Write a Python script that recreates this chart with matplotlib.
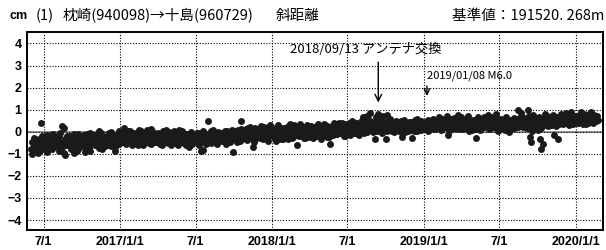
import matplotlib
matplotlib.use("Agg")
import matplotlib.pyplot as plt
import numpy as np
import pandas as pd

# --- data (cm): two interleaved sets of readings, each one every 3 days ---
start_2016 = "2016-06-01"
vals_2016 = [
    -0.78, -1.02, -0.62, -0.40, -0.55, -0.72, -0.35, -0.88, 0.38, -0.48,
    -0.30, -0.62, -0.45, -0.15, -0.70, -0.52, -0.38, -0.80, -0.25, -0.58,
    -0.40, -0.65, -0.20, -0.55, -0.50, 0.28, 0.15, -1.05, -0.60, -0.42,
    -0.35, -0.55, -0.80, -0.30, -0.10, -0.70, -0.45, -0.85, -0.25, -0.50,
    -0.35, -0.60, -0.15, -0.90, -0.42, -0.28, -0.75, -0.05, -0.50, -0.38,
    -0.45, -0.20, -0.62, -0.30, 0.02, -0.55, -0.38, -0.80, -0.25, -0.42,
    -0.28, -0.50, -0.05, -0.35, -0.65, -0.20, -0.40, -0.85, -0.15, -0.32, -0.55, -0.10,
]
start_2016b = "2016-06-02"
vals_2016b = [
    -0.45, -0.85, -0.30, -0.68, -0.52, -0.95, -0.40, -0.60, -0.20, -0.75,
    -0.65, -0.35, -0.90, -0.48, -0.22, -0.60, -0.75, -0.10, -0.55, -0.40,
    -0.58, -0.30, -0.85, -0.05, -0.70, -0.45, -0.95, -0.35, -0.18, -0.62,
    -0.50, -0.20, -0.65, -0.40, -0.95, -0.28, -0.58, -0.12, -0.72, -0.35,
    -0.55, -0.20, -0.45, -0.70, -0.10, -0.62, -0.30, -0.85, -0.38, -0.15,
    -0.30, -0.58, -0.10, -0.45, -0.72, -0.25, -0.05, -0.50, -0.35, -0.65,
    -0.40, -0.15, -0.62, -0.25, -0.02, -0.48, -0.30, -0.70, -0.20, -0.45, 0.05, -0.35,
]
start_2017 = "2017-01-01"
vals_2017 = [
    -0.30, -0.10, -0.45, 0.15, -0.25, -0.55, -0.18, -0.35, 0.05, -0.40,
    -0.22, -0.48, -0.12, -0.30, -0.60, 0.10, -0.28, -0.15, -0.42, -0.20,
    -0.05, -0.35, -0.25, -0.50, -0.10, 0.12, -0.30, -0.45, -0.18, -0.08,
    -0.38, -0.15, -0.55, -0.22, 0.05, -0.30, -0.12, -0.48, -0.25, -0.02,
    -0.28, -0.62, -0.18, -0.35, -0.08, -0.45, -0.20, 0.08, -0.38, -0.15,
    -0.32, -0.50, -0.12, -0.40, -0.22, -0.70, -0.28, -0.05, -0.45, -0.18,
    -0.25, -0.15, -0.32, -0.05, -0.40, -0.85, -0.82, -0.20, -0.10, -0.55,
    0.48, -0.35, -0.22, 0.02, -0.48, -0.15, -0.28, -0.05, -0.40, -0.18,
    -0.20, -0.05, -0.30, -0.12, 0.05, -0.38, -0.22, -0.15, -0.45, -0.08,
    -0.90, -0.25, -0.08, -0.35, 0.10, -0.15, -0.42, 0.48, -0.20, -0.10,
    -0.30, 0.12, -0.05, -0.22, 0.20, -0.15, -0.70, 0.05, -0.10, -0.28,
    0.08, -0.20, -0.02, 0.25, -0.35, -0.10, 0.15, -0.05, -0.25, 0.02,
    0.30, -0.15,
]
start_2017b = "2017-01-02"
vals_2017b = [
    -0.15, -0.45, -0.28, -0.05, -0.52, -0.20, 0.05, -0.38, -0.12, -0.60,
    -0.35, -0.05, -0.25, -0.55, -0.15, -0.42, 0.02, -0.30, -0.58, -0.10,
    -0.28, 0.08, -0.40, -0.15, -0.55, -0.22, -0.02, -0.35, -0.48, -0.10,
    -0.05, -0.42, -0.20, -0.60, -0.10, -0.32, 0.10, -0.25, -0.50, -0.15,
    -0.40, -0.10, -0.28, 0.05, -0.50, -0.20, -0.58, -0.12, -0.30, 0.02,
    -0.15, -0.38, -0.60, -0.08, -0.30, -0.45, 0.00, -0.55, -0.22, -0.35,
    -0.42, -0.05, -0.28, -0.60, -0.18, -0.35, 0.05, -0.48, -0.25, -0.12,
    -0.30, -0.08, -0.50, -0.18, 0.08, -0.40, -0.25, -0.55, 0.00, -0.32,
    -0.05, -0.42, -0.15, -0.30, -0.55, 0.02, -0.25, -0.10, -0.38, 0.10,
    -0.18, 0.05, -0.30, -0.45, -0.05, -0.22, 0.12, -0.35, -0.08, -0.28,
    -0.02, -0.38, 0.15, -0.18, -0.30, 0.08, -0.12, -0.45, 0.18, -0.20,
    -0.15, 0.12, -0.30, 0.05, -0.10, 0.22, -0.28, 0.00, -0.40, 0.15,
    -0.08, 0.10,
]
start_2018 = "2018-01-01"
vals_2018 = [
    -0.12, 0.18, -0.30, 0.05, -0.08, 0.32, -0.20, -0.02, 0.10, -0.35,
    0.05, -0.22, 0.20, -0.10, 0.35, -0.05, -0.28, 0.12, 0.00, -0.15,
    -0.60, 0.15, -0.05, 0.25, -0.18, 0.08, -0.30, 0.02, 0.30, -0.12,
    0.10, -0.15, -0.08, 0.22, -0.20, 0.05, -0.02, 0.35, -0.25, 0.12,
    0.18, -0.10, 0.30, 0.02, -0.22, 0.15, -0.55, -0.05, 0.25, -0.15,
    0.05, 0.35, -0.12, 0.20, 0.10, -0.05, 0.40, 0.15, -0.20, 0.28,
    0.30, 0.05, -0.15, 0.25, 0.10, 0.45, -0.05, 0.30, 0.15, -0.10,
    0.20, 0.35, 0.05, 0.65, 0.40, 0.15, 0.70, 0.60, 0.85, 0.30,
    0.25, -0.02, -0.35, 0.15, 0.60, 0.80, 0.10, 0.55, 0.20, 0.70,
    0.35, -0.35, 0.75, 0.28, 0.50, 0.18, 0.02, 0.40, 0.22, 0.08,
    0.15, 0.45, 0.25, 0.00, -0.25, 0.10, 0.55, 0.20, 0.38, 0.05,
    0.30, 0.12, -0.30, 0.22, 0.05, 0.35, 0.58, 0.18, 0.28, 0.10,
    0.40, 0.25,
]
start_2018b = "2018-01-02"
vals_2018b = [
    0.10, -0.25, 0.02, -0.40, 0.20, -0.15, 0.05, -0.32, 0.15, -0.08,
    -0.18, 0.10, -0.35, 0.28, -0.05, 0.15, -0.25, 0.32, -0.12, 0.05,
    0.12, -0.20, 0.35, -0.10, 0.05, -0.30, 0.20, -0.08, 0.15, -0.25,
    -0.05, 0.28, -0.30, 0.12, 0.00, -0.18, 0.25, -0.10, 0.08, -0.32,
    0.10, 0.35, -0.15, 0.05, 0.28, -0.25, 0.20, 0.00, -0.10, 0.40,
    0.25, -0.10, 0.15, 0.42, -0.05, 0.30, 0.00, -0.18, 0.35, 0.12,
    0.05, 0.38, -0.12, 0.20, 0.50, -0.05, 0.25, 0.10, 0.42, -0.15,
    0.40, 0.10, 0.55, -0.05, 0.25, 0.45, 0.00, 0.30, 0.50, 0.12,
    0.10, 0.45, 0.30, 0.65, 0.05, 0.38, 0.15, 0.50, -0.05, 0.35,
    0.15, 0.45, 0.05, 0.30, 0.60, 0.12, 0.38, -0.02, 0.25, 0.48,
    0.35, 0.05, 0.28, 0.50, 0.15, 0.40, -0.02, 0.30, 0.10, 0.45,
    0.20, 0.45, 0.10, 0.35, 0.55, 0.15, 0.05, 0.40, 0.25, 0.50,
    0.15, 0.35,
]
start_2019 = "2019-01-01"
vals_2019 = [
    0.35, 0.15, 0.50, 0.05, 0.28, 0.42, 0.20, 0.60, 0.32, 0.12,
    0.45, 0.25, 0.65, 0.30, 0.15, 0.50, 0.38, 0.20, 0.70, -0.15,
    0.40, 0.10, 0.55, 0.28, 0.18, 0.45, 0.35, 0.78, 0.22, 0.50,
    0.30, 0.12, 0.48, 0.38, 0.60, 0.25, 0.05, 0.42, 0.32, 0.55,
    0.20, 0.45, -0.30, 0.68, 0.28, 0.10, 0.50, 0.38, 0.22, 0.58,
    0.40, 0.75, 0.25, 0.48, 0.15, 0.35, 0.62, 0.30, 0.80, 0.05,
    0.45, 0.20, 0.28, 0.55, 0.20, 0.10, 0.55, 0.32, 0.00, 0.40,
    0.25, 0.50, 0.15, 0.38, 0.60, 1.00, 0.42, 0.30, 0.72, 0.22,
    0.45, 0.28, 0.62, 1.00, 0.50, -0.25, -0.45, 0.75, 0.32, 0.55,
    0.38, 0.10, 0.45, -0.35, -0.80, -0.55, 0.35, 0.82, 0.42, 0.55,
    0.55, 0.32, 0.68, 0.45, -0.15, 0.40, 0.58, -0.35, 0.62, 0.48,
    0.45, 0.72, 0.38, 0.55, 0.85, 0.50, 0.30, 0.65, 0.42, 0.58,
    0.52, 0.70,
]
start_2019b = "2019-01-02"
vals_2019b = [
    0.20, 0.45, 0.28, 0.55, 0.10, 0.38, 0.50, 0.15, 0.42, 0.30,
    0.25, 0.55, 0.35, 0.10, 0.48, 0.60, 0.28, 0.40, 0.18, 0.52,
    0.30, 0.58, 0.15, 0.42, 0.62, 0.25, 0.50, 0.12, 0.38, 0.65,
    0.48, 0.22, 0.55, 0.15, 0.35, 0.70, 0.28, 0.45, 0.10, 0.40,
    0.52, 0.30, 0.12, 0.45, 0.60, 0.35, 0.20, 0.48, 0.68, 0.25,
    0.30, 0.55, 0.12, 0.45, 0.65, 0.22, 0.40, 0.58, 0.18, 0.50,
    0.35, 0.60, 0.15, 0.42, 0.25, 0.68, 0.30, 0.48, 0.12, 0.55,
    0.40, 0.15, 0.62, 0.28, 0.45, 0.20, 0.58, 0.85, 0.35, 0.48,
    0.30, 0.58, 0.15, 0.42, 0.70, 0.25, 0.05, 0.48, 0.62, 0.20,
    0.50, 0.28, 0.65, 0.15, 0.42, 0.58, 0.30, 0.48, 0.70, 0.25,
    0.40, 0.62, 0.30, 0.75, 0.48, 0.25, 0.68, 0.52, 0.35, 0.80,
    0.62, 0.35, 0.55, 0.78, 0.40, 0.68, 0.48, 0.88, 0.52, 0.35,
    0.60, 0.45,
]
start_2020 = "2020-01-01"
vals_2020 = [0.45, 0.70, 0.38, 0.60, 0.88, 0.50, 0.35, 0.65, 0.48, 0.75,
             0.40, 0.62, 0.90, 0.55, 0.42, 0.68, 0.50, 0.72]
start_2020b = "2020-01-02"
vals_2020b = [0.55, 0.38, 0.72, 0.50, 0.62, 0.42, 0.80, 0.58, 0.35, 0.68,
              0.52, 0.85, 0.45, 0.60, 0.75, 0.48, 0.65, 0.55]

tick_dates = ["2016-07-01", "2017-01-01", "2017-07-01", "2018-01-01",
              "2018-07-01", "2019-01-01", "2019-07-01", "2020-01-01"]
tick_labels = ["7/1", "2017/1/1", "7/1", "2018/1/1", "7/1", "2019/1/1", "7/1", "2020/1/1"]
y_ticks = [-4, -3, -2, -1, 0, 1, 2, 3, 4]
event1_date, event1_text = "2018-09-13", "2018/09/13 アンテナ交換"
event2_date, event2_text = "2019-01-08", "2019/01/08 M6.0"
title_no = "(1)"
title_pair = "枕崎(940098)→十島(960729)"
title_kind = "斜距離"
title_right = "基準値：191520. 268m"

segments = [(start_2016, vals_2016), (start_2016b, vals_2016b),
            (start_2017, vals_2017), (start_2017b, vals_2017b),
            (start_2018, vals_2018), (start_2018b, vals_2018b),
            (start_2019, vals_2019), (start_2019b, vals_2019b),
            (start_2020, vals_2020), (start_2020b, vals_2020b)]
dates = []
values = []
for s, v in segments:
    dates.extend(pd.date_range(s, periods=len(v), freq="3D"))
    values.extend(v)

plt.rcParams['font.family'] = ['Noto Sans CJK JP', 'DejaVu Sans']
NUM_FONT = ['Liberation Sans', 'DejaVu Sans']

fig = plt.figure(figsize=(6.06, 2.5), dpi=100)
ax = fig.add_axes([27 / 606, 1 - 230 / 250, 576 / 606, 198 / 250])

ax.axhline(0, color="#808080", lw=1.2, zorder=1)
ax.plot(dates, values, "o", color="#1a1a1a", markersize=5.0, markeredgewidth=0, zorder=3)

ax.set_xlim(pd.Timestamp("2016-05-22"), pd.Timestamp("2020-03-06"))
ax.set_ylim(-4.45, 4.52)
ax.set_xticks(pd.to_datetime(tick_dates))
ax.set_xticklabels(tick_labels)
ax.set_yticks(y_ticks)
ax.set_yticklabels(["−4", "−3", "−2", "−1", "0", "1", "2", "3", "4"])
ax.tick_params(length=0, pad=4)
for lab in ax.get_xticklabels() + ax.get_yticklabels():
    lab.set_family(NUM_FONT)
    lab.set_fontweight('bold')
    lab.set_fontsize(9)
ax.grid(True, color="black", linestyle=(0, (1, 1.5)), lw=0.8, zorder=0)
for sp in ax.spines.values():
    sp.set_linewidth(1.4)

# annotations
ax.annotate("", xy=(pd.Timestamp(event1_date), 1.2), xytext=(pd.Timestamp(event1_date), 3.28),
            arrowprops=dict(arrowstyle="->", color="black", lw=1.0, mutation_scale=12))
ax.text(pd.Timestamp("2018-02-12"), 3.45, event1_text, ha="left", va="bottom",
        fontsize=9.5, color="black")
ax.annotate("", xy=(pd.Timestamp(event2_date), 1.5), xytext=(pd.Timestamp(event2_date), 2.2),
            arrowprops=dict(arrowstyle="->", color="black", lw=1.0, mutation_scale=10))
ax.text(pd.Timestamp(event2_date), 2.3, event2_text, ha="left", va="bottom",
        fontsize=8, color="black")

yt = 1 - 16 / 250
fig.text(9 / 606, yt, "cm", fontsize=9, fontweight="bold", va="center", ha="left", family=NUM_FONT)
fig.text(36 / 606, yt, title_no, fontsize=10.5, va="center", ha="left")
fig.text(63 / 606, yt, title_pair, fontsize=10.5, va="center", ha="left")
fig.text(276 / 606, yt, title_kind, fontsize=10.5, va="center", ha="left")
fig.text(604 / 606, yt, title_right, fontsize=10.5, va="center", ha="right")

fig.savefig("out.png", dpi=100)
